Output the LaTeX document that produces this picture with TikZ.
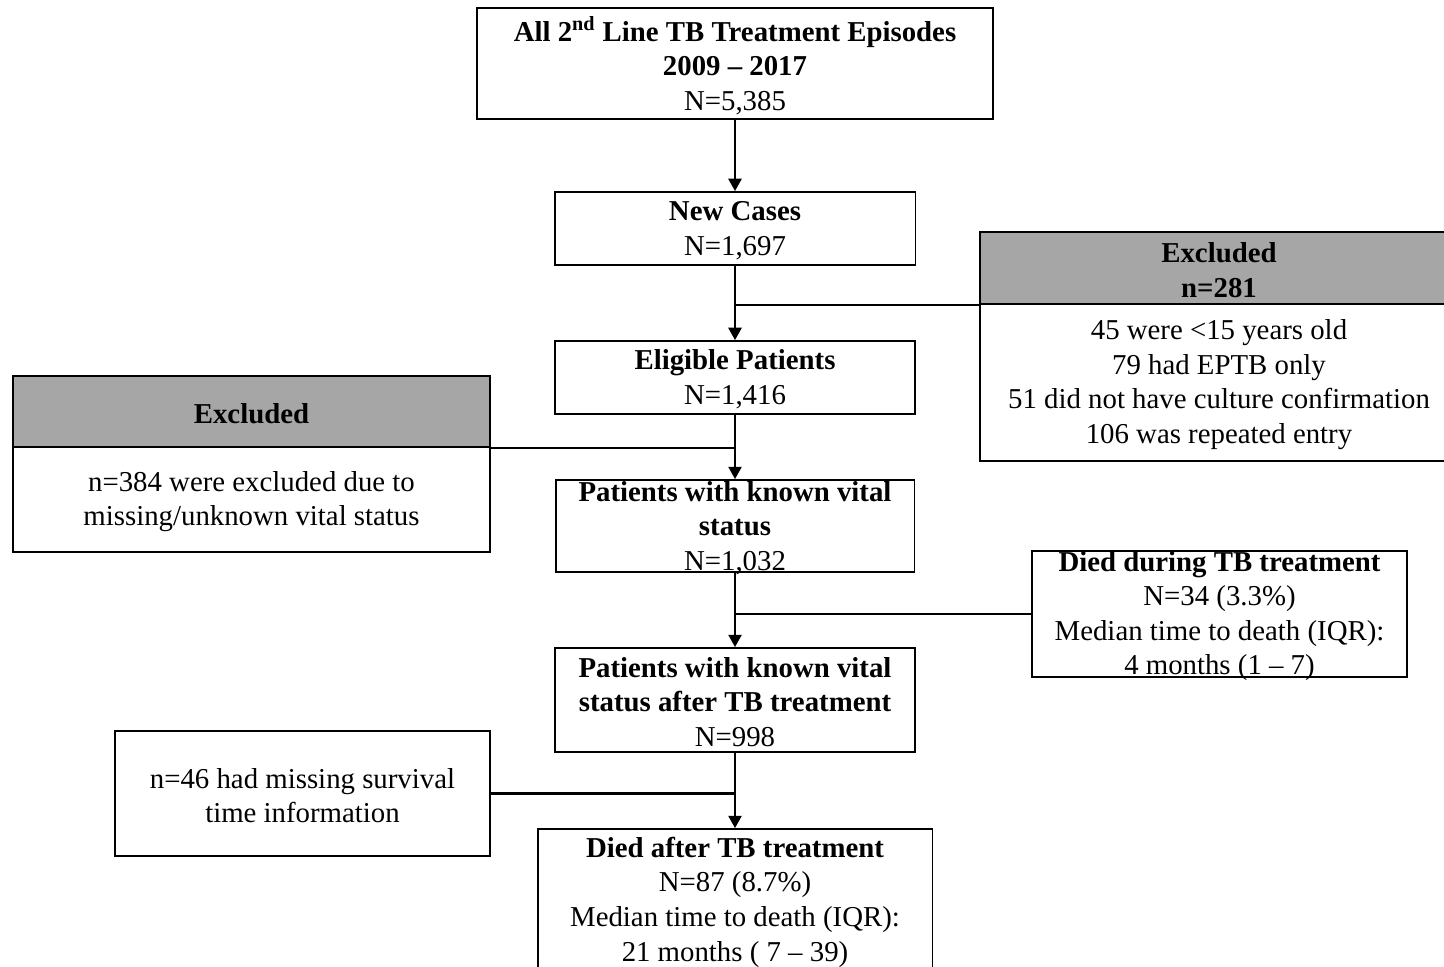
\documentclass[tikz,border=0pt]{standalone}
\usepackage{fontspec}
\setmainfont{Liberation Serif}
\usepackage{xcolor}
\usetikzlibrary{arrows.meta,positioning,calc}
\definecolor{headgray}{RGB}{166,166,166}

\begin{document}
\begin{tikzpicture}[x=0.02cm,y=-0.02cm,>={Triangle[length=7pt,width=7.5pt]},
  box/.style={draw,line width=1.1pt,inner sep=0pt},
  headbox/.style={box,fill=headgray},
  txt/.style={align=center,inner sep=0pt,yshift=-0.04cm,font=\fontsize{16.4}{19.7}\selectfont},
  conn/.style={line width=1.2pt}]
\useasboundingbox (0,0) rectangle (1444,967);
\clip (0,0) rectangle (1444,967);

% main column
\node[box,minimum width=10.34cm,minimum height=2.22cm] (top) at (735,63.5) {};
\node[txt] (topt) at (top) {\textbf{All 2\textsuperscript{nd} Line TB Treatment Episodes}\\\textbf{2009 -- 2017}\\N=5,385};
\node[box,minimum width=7.22cm,minimum height=1.46cm] (cases) at (735,228.5) {};
\node[txt] (casest) at (cases) {\textbf{New Cases}\\N=1,697};
\node[box,minimum width=7.2cm,minimum height=1.46cm] (elig) at (735,377.5) {};
\node[txt] (eligt) at (elig) {\textbf{Eligible Patients}\\N=1,416};
\node[box,minimum width=7.18cm,minimum height=1.84cm] (vital) at (735,526) {};
\node[txt] (vitalt) at (vital) {\textbf{Patients with known vital}\\\textbf{status}\\N=1,032};
\node[box,minimum width=7.2cm,minimum height=2.08cm] (after) at (735,700) {};
\node[txt] (aftert) at (after) {\textbf{Patients with known vital}\\\textbf{status after TB treatment}\\N=998};
\node[box,minimum width=7.9cm,minimum height=2.92cm] (dthaft) at (735,902) {};
\node[txt] (dthaftt) at (735,900) {\textbf{Died after TB treatment}\\N=87 (8.7\%)\\Median time to death (IQR):\\21 months ( 7 -- 39)};

% side boxes
\node[headbox,minimum width=9.56cm,minimum height=1.44cm] (exclRh) at (1219,268) {};
\node[txt] (exclRht) at (exclRh) {\textbf{Excluded}\\\textbf{n=281}};
\node[box,minimum width=9.56cm,minimum height=3.14cm] (exclRb) at (1219,382.5) {};
\node[txt] (exclRbt) at (exclRb) {45 were <15 years old\\79 had EPTB only\\51 did not have culture confirmation\\106 was repeated entry};
\node[headbox,minimum width=9.54cm,minimum height=1.42cm] (exclLh) at (251.5,411.5) {};
\node[txt] (exclLht) at (exclLh) {\textbf{Excluded}};
\node[box,minimum width=9.54cm,minimum height=2.1cm] (exclLb) at (251.5,499.5) {};
\node[txt] (exclLbt) at (exclLb) {n=384 were excluded due to\\missing/unknown vital status};
\node[box,minimum width=7.5cm,minimum height=2.52cm] (dthdur) at (1219.5,614) {};
\node[txt] (dthdurt) at (dthdur) {\textbf{Died during TB treatment}\\N=34 (3.3\%)\\Median time to death (IQR):\\4 months (1 -- 7)};
\node[box,minimum width=7.5cm,minimum height=2.5cm] (miss) at (302.5,793.5) {};
\node[txt] (misst) at (miss) {n=46 had missing survival\\time information};

% arrows
\draw[conn,->] (top.south) -- (cases.north);
\draw[conn,->] (cases.south) -- (elig.north);
\draw[conn,->] (elig.south) -- (vital.north);
\draw[conn,->] (vital.south) -- (after.north);
\draw[conn,->] (after.south) -- (dthaft.north);

% branches
\draw[conn] (exclRh.south west) -- (exclRh.south west -| cases.south);
\draw[conn] (exclLh.south east) -- (exclLh.south east -| elig.south);
\draw[conn] (dthdur.west) -- (dthdur.west -| vital.south);
\draw[conn] (miss.east) -- (miss.east -| after.south);
\end{tikzpicture}
\end{document}
